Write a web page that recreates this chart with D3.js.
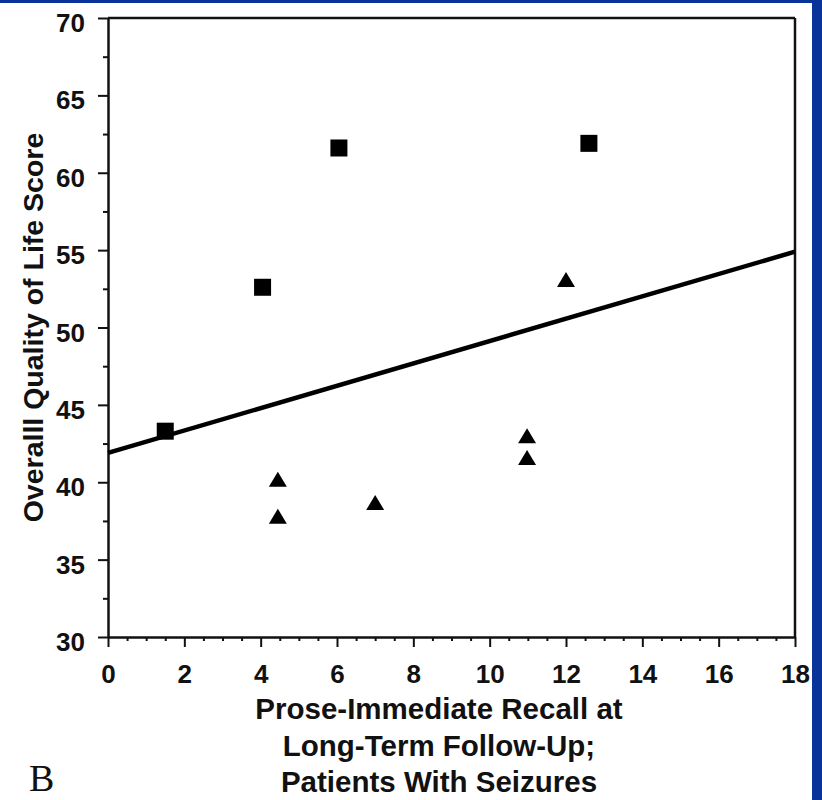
<!DOCTYPE html>
<html>
<head>
<meta charset="utf-8">
<script src="https://cdn.jsdelivr.net/npm/d3@7"></script>
<style>
  html, body { margin: 0; padding: 0; background: #0a3399; }
  svg { display: block; }
</style>
</head>
<body>
<script>
// ---- Data ----
const squareX = [1.5, 4.05, 6.05, 12.6];
const squareY = [43.3, 52.6, 61.6, 61.9];
const triangleX = [4.45, 4.45, 7.0, 10.98, 10.98, 12.0];
const triangleY = [40.1, 37.7, 38.6, 42.9, 41.5, 53.0];
const fitX = [0, 18];
const fitY = [41.9, 54.9];
const xTicks = [0, 2, 4, 6, 8, 10, 12, 14, 16, 18];
const yTicks = [30, 35, 40, 45, 50, 55, 60, 65, 70];
const xTitleLines = ["Prose-Immediate Recall at", "Long-Term Follow-Up;", "Patients With Seizures"];
const yTitle = "Overalll Quality of Life Score";
const panelLabel = "B";

const W = 822, H = 800;
const svg = d3.select("body").append("svg").attr("width", W).attr("height", H);

// background
svg.append("rect").attr("x", 0).attr("y", 0).attr("width", W).attr("height", H).attr("fill", "#0a3399");
svg.append("rect").attr("x", 0).attr("y", 3).attr("width", 812).attr("height", H - 3).attr("fill", "#ffffff");

const x = d3.scaleLinear().domain([0, 18]).range([108, 795]);
const y = d3.scaleLinear().domain([30, 70]).range([637, 18]);

const font = "Arial, 'Liberation Sans', Helvetica, sans-serif";

// minor ticks
const xMinor = d3.range(0, 18.01, 0.5).filter(v => Math.abs(v % 2) > 1e-6);
const yMinor = d3.range(32.5, 70, 5);

svg.append("g").attr("transform", `translate(0,${y(30)})`)
  .call(d3.axisBottom(x).tickValues(xMinor).tickSize(4).tickFormat(""))
  .call(g => g.select(".domain").remove())
  .call(g => g.selectAll("line").attr("stroke", "#111").attr("stroke-width", 2));
svg.append("g").attr("transform", `translate(${x(0)},0)`)
  .call(d3.axisLeft(y).tickValues(yMinor).tickSize(5).tickFormat(""))
  .call(g => g.select(".domain").remove())
  .call(g => g.selectAll("line").attr("stroke", "#111").attr("stroke-width", 2));

// major axes
const gx = svg.append("g").attr("transform", `translate(0,${y(30)})`)
  .call(d3.axisBottom(x).tickValues(xTicks).tickSize(10).tickPadding(18).tickSizeOuter(0));
const gy = svg.append("g").attr("transform", `translate(${x(0)},0)`)
  .call(d3.axisLeft(y).tickValues(yTicks).tickSize(10).tickPadding(13).tickSizeOuter(0));

[gx, gy].forEach(g => {
  g.select(".domain").attr("stroke", "#111").attr("stroke-width", 2.5);
  g.selectAll("line").attr("stroke", "#111").attr("stroke-width", 2);
  g.selectAll("text").attr("fill", "#111").style("font-family", font)
    .style("font-weight", "bold").style("font-size", "26px");
});
gy.selectAll("text").attr("dy", "0.52em");

// top and right border
svg.append("line").attr("x1", x(0)).attr("x2", x(18)).attr("y1", y(70)).attr("y2", y(70))
  .attr("stroke", "#111").attr("stroke-width", 2.5);
svg.append("line").attr("x1", x(18)).attr("x2", x(18)).attr("y1", y(70)).attr("y2", y(30))
  .attr("stroke", "#111").attr("stroke-width", 2.5);

// regression line
svg.append("line")
  .attr("x1", x(fitX[0])).attr("y1", y(fitY[0]))
  .attr("x2", x(fitX[1])).attr("y2", y(fitY[1]))
  .attr("stroke", "#000").attr("stroke-width", 4.5);

// squares
const sq = 17;
svg.append("g").selectAll("rect").data(squareX.map((d, i) => [d, squareY[i]])).join("rect")
  .attr("x", d => x(d[0]) - sq / 2).attr("y", d => y(d[1]) - sq / 2)
  .attr("width", sq).attr("height", sq).attr("fill", "#000");

// triangles
const tw = 18, th = 15;
svg.append("g").selectAll("path").data(triangleX.map((d, i) => [d, triangleY[i]])).join("path")
  .attr("d", d => {
    const cx = x(d[0]), cy = y(d[1]);
    return `M${cx},${cy - th * 0.6}L${cx + tw / 2},${cy + th * 0.4}L${cx - tw / 2},${cy + th * 0.4}Z`;
  })
  .attr("fill", "#000");

// x title
svg.append("g").selectAll("text").data(xTitleLines).join("text")
  .attr("x", 439).attr("y", (d, i) => 719 + i * 36.5)
  .attr("text-anchor", "middle")
  .style("font-family", font).style("font-weight", "bold").style("font-size", "29.5px")
  .attr("fill", "#111").text(d => d);

// y title
svg.append("text")
  .attr("transform", `translate(43,${(y(30) + y(70)) / 2}) rotate(-90)`)
  .attr("text-anchor", "middle")
  .style("font-family", font).style("font-weight", "bold").style("font-size", "28.5px")
  .attr("fill", "#111").text(yTitle);

// panel label
svg.append("text").attr("x", 29).attr("y", 791)
  .style("font-family", "'Times New Roman', 'Liberation Serif', serif").style("font-size", "38px")
  .attr("fill", "#111").text(panelLabel);
</script>
</body>
</html>
